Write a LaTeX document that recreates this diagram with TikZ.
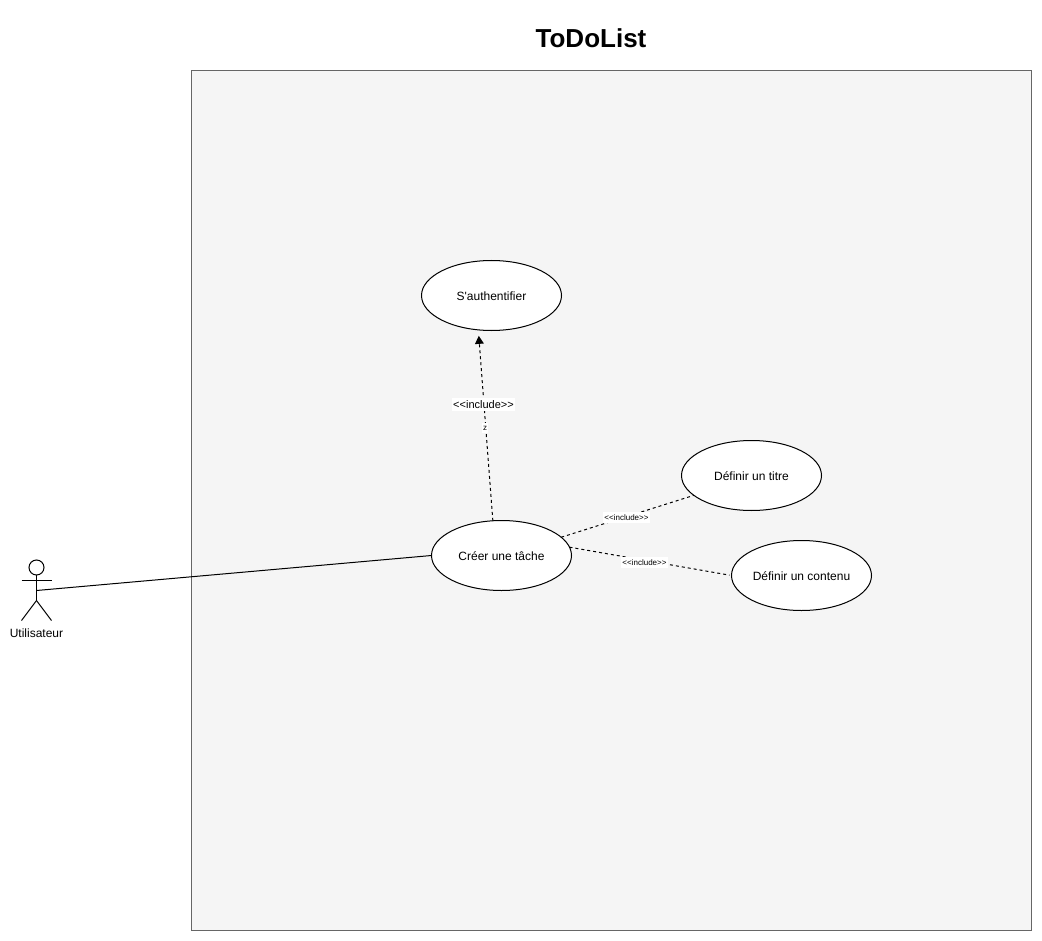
\documentclass[tikz,border=0pt]{standalone}
\usepackage{fontspec}
\setmainfont{Liberation Sans}
\usetikzlibrary{shapes.geometric,arrows.meta}
\definecolor{boxfill}{HTML}{F5F5F5}
\definecolor{boxline}{HTML}{666666}
\newcommand{\incl}{<\kern0pt<include>\kern0pt>}
\tikzset{
    usecase/.style={draw, ellipse, fill=white, minimum width=105pt, minimum height=52.5pt, inner sep=0pt, outer sep=0pt, text height=8.1pt, text depth=0pt, font=\fontsize{9}{11}\selectfont},
    inclbig/.style={fill=white, inner xsep=0.8pt, inner ysep=1.5pt, font=\fontsize{8.25}{10}\selectfont},
    inclsmall/.style={fill=white, inner xsep=0.8pt, inner ysep=2pt, font=\fontsize{6}{7.5}\selectfont},
    incline/.style={dash pattern=on 2.25pt off 2.25pt}
}
\begin{document}
\begin{tikzpicture}[x=0.75pt, y=-0.75pt, line width=0.75pt]
    \useasboundingbox (0,0) rectangle (1042,941);
    \node[font=\fontsize{19.5}{23}\selectfont\bfseries] (title) at (591,38.5) {ToDoList};
    \draw[boxline, fill=boxfill] (191.5,70.5) rectangle (1031.5,930.5);
    \node[usecase] (auth) at (491.5,295.5) {S\textquotesingle authentifier};
    \node[usecase] (creer) at (501.5,555.5) {Créer une tâche};
    \node[usecase] (titre) at (751.5,475.5) {Définir un titre};
    \node[usecase] (contenu) at (801.5,575.5) {Définir un contenu};
    % actor
    \node[draw, circle, minimum size=11.25pt, inner sep=0pt, outer sep=0pt] (head) at (36.5,567.5) {};
    \coordinate (hip) at (36.5,600.5);
    \coordinate (hand) at (36.5,590.5);
    \draw (head.south) -- (hip);
    \draw (21.5,580.5) -- (51.5,580.5);
    \foreach \x in {21.5,51.5}
        \draw (hip) -- (\x,620.5);
    \node[font=\fontsize{9}{11}\selectfont] (actor) at (36.5,633.5) {Utilisateur};
    % connectors
    \draw (hand) -- (creer.west);
    \draw[incline, -{Triangle[length=6pt,width=6.5pt]}, shorten >=4.5pt] (creer.104) -- (auth.249.3);
    \draw[incline] (creer.17) -- (titre.199);
    \draw[incline, shorten >=1.5pt] (creer.7) -- (contenu.west);
    \node[inclbig] (lblauth) at (483.5,404.5) {\incl};
    \node[inclsmall] (lblz) at (485,428) {z};
    \node[inclsmall] (lbltitre) at (626.5,517.5) {\incl};
    \node[inclsmall] (lblcontenu) at (644.5,562.5) {\incl};
\end{tikzpicture}
\end{document}
